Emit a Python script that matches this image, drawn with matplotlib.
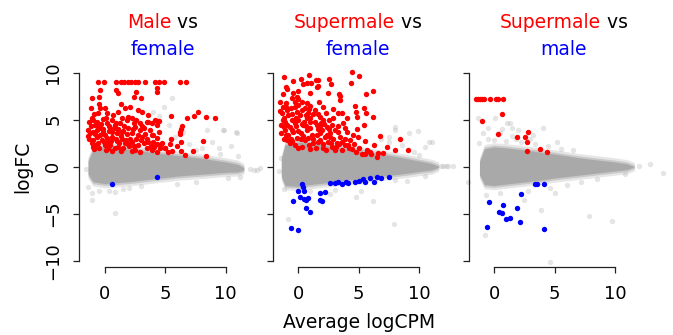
import matplotlib
matplotlib.use("Agg")
import matplotlib.pyplot as plt
import numpy as np

plt.rcParams['font.family'] = ['DejaVu Sans']

# ---------------- data ----------------
titles = [
    [[("Male", "#FF0000"), (" vs", "#000000")], [("female", "#0000FF")]],
    [[("Supermale", "#FF0000"), (" vs", "#000000")], [("female", "#0000FF")]],
    [[("Supermale", "#FF0000"), (" vs", "#000000")], [("male", "#0000FF")]],
]
xlabel = "Average logCPM"
ylabel = "logFC"
xticks = [0, 5, 10]
yticks = [-10, -5, 0, 5, 10]

# dense grey cloud envelope (core) for each panel
band1_x = [-1.4, -1.0, 0, 1, 2, 3, 4, 5, 6, 7, 8, 9, 10, 11, 11.5]
band1_hi = [0.6, 1.8, 2.1, 2.0, 1.85, 1.7, 1.5, 1.35, 1.2, 1.05, 0.9, 0.7, 0.5, 0.25, -0.1]
band1_lo = [-0.8, -1.6, -1.8, -1.7, -1.6, -1.45, -1.3, -1.15, -1.0, -0.9, -0.8, -0.7, -0.6, -0.55, -0.35]

band2_x = [-1.4, -1.1, 0, 1, 2, 3, 4, 5, 6, 7, 8, 9, 10, 11, 11.6]
band2_hi = [0.8, 2.3, 2.6, 2.5, 2.3, 2.1, 1.9, 1.7, 1.5, 1.3, 1.1, 0.85, 0.6, 0.35, 0.05]
band2_lo = [-1.0, -2.0, -2.1, -1.9, -1.75, -1.6, -1.45, -1.3, -1.15, -1.0, -0.85, -0.7, -0.5, -0.35, -0.05]

band3_x = [-1.2, -0.8, 0, 1, 2, 3, 4, 5, 6, 7, 8, 9, 10, 11, 11.6]
band3_hi = [0.5, 1.9, 2.1, 2.0, 1.85, 1.7, 1.5, 1.35, 1.15, 0.95, 0.8, 0.65, 0.5, 0.3, 0.0]
band3_lo = [-0.8, -1.9, -2.0, -1.85, -1.7, -1.55, -1.4, -1.2, -1.05, -0.9, -0.75, -0.6, -0.45, -0.3, 0.0]

# sparse grey points
grey1 = [(-1.6, -0.2), (-1.1, -2.8), (-1.05, -3.5), (0.83, -4.96), (0.83, -2.7), (0.3, -2.6),
         (10.96, 3.6), (9.8, 3.9), (12.6, -0.4), (11.2, -1.1), (5.52, 7.34), (5.3, 4.44),
         (6.49, 3.73), (8.42, 3.9), (9.89, 3.9), (10.85, 3.73), (10.44, 2.24), (11.05, 1.18),
         (9.45, 1.95), (8.84, 2.6), (-1.4, -2.2), (1.5, -2.4), (3.0, -2.0), (6.0, -1.8),
         (7.5, 1.8), (4.5, 5.4), (4.9, 6.4), (2.0, -2.3), (-0.5, -2.6), (12.0, -0.2),
         (7.0, 2.4), (8.0, 2.0), (9.5, 1.3), (5.8, 3.2), (4.0, 5.8), (10.2, -1.2), (7.5, -1.6)]
grey2 = [(-3.7, -0.3), (-3.2, -0.12), (-1.2, -2.35), (-0.83, -5.6), (7.9, -6.1), (6.2, -3.6),
         (12.2, 0.1), (11.8, 0.1), (10.8, 2.6), (9.9, 3.8), (8.0, 3.9), (4.8, -3.2),
         (7.99, 4.26), (9.17, 3.62), (7.52, 3.12), (10.47, 2.06), (11.02, 2.66), (-1.6, -0.5),
         (5.2, -2.6), (2.6, -2.9), (9.0, -1.5), (10.5, -1.0), (3.0, -2.5), (-1.4, 0.9), (6.8, 2.9),
         (8.6, 2.3), (9.6, 1.6), (7.5, 2.6), (10.0, 1.2), (1.0, -2.6), (8.0, -1.4)]
grey3 = [(-4.19, 0.1), (-3.8, 0.1), (-3.4, 0.1), (-2.12, -1.6), (12.9, 0.3), (14.0, -0.7),
         (12.0, 0.05), (10.8, -0.8), (7.85, -5.2), (9.73, -5.73), (4.63, -10.1), (-0.74, -7.27),
         (1.32, 4.68), (4.08, 4.08), (0.7, 4.0), (2.0, 3.9), (3.0, 3.0), (-0.5, 3.0), (1.5, 3.3),
         (5.0, -2.8), (2.5, -3.5), (-0.7, -3.0), (3.9, -4.6), (6.5, 1.8), (8.5, -1.3), (6.0, -1.9),
         (-1.2, 2.5), (-1.3, 5.14), (0.08, 5.14), (-0.47, 4.08), (1.05, 4.61), (1.46, 4.08), (0.5, 3.55),
         (0.0, 2.8), (1.0, 2.7), (2.2, 2.6), (3.4, 2.4), (4.5, 2.2), (5.5, 1.9), (-0.9, 3.6),
         (1.8, 3.0), (3.2, 3.4), (5.2, 2.6), (0.5, -2.8), (2.8, -2.6), (4.6, -2.3), (7.2, -1.6)]

# significant genes (up = red, down = blue)
red1 = [(-0.56, 9.05), (-0.06, 9.05), (0.88, 9.05), (1.32, 9.05), (1.6, 9.05), (1.88, 9.05),
        (2.15, 9.05), (2.48, 9.05), (2.7, 9.05), (3.31, 9.05), (4.14, 9.05), (4.47, 9.05),
        (4.91, 9.05), (6.21, 9.05), (6.71, 9.05),
        (-0.42, 8.16), (-1.11, 7.27), (-0.5, 7.45), (0.88, 8.16), (1.1, 7.8), (2.54, 7.98),
        (2.43, 7.45), (2.98, 7.27), (4.28, 8.34), (4.28, 7.98), (-1.16, 6.28), (-0.5, 6.64),
        (-0.42, 6.21), (-0.55, 5.68), (0.0, 6.21), (0.14, 5.68), (1.32, 6.64), (1.65, 6.28),
        (2.07, 6.39), (2.76, 6.03), (1.1, 5.85), (0.69, 5.5), (3.59, 5.5), (-1.11, 5.15),
        (5.47, 5.43), (6.77, 5.22), (7.4, 5.4), (7.73, 5.78), (8.37, 5.32), (9.11, 5.22),
        (6.35, 4.37), (6.27, 3.98), (6.21, 3.73), (6.21, 3.44), (8.15, 2.74), (5.47, 2.91),
        (5.38, 2.42), (6.27, 2.66), (5.99, 2.24), (5.58, 1.67), (5.25, 1.53), (6.27, 1.67),
        (6.63, 1.25), (7.26, 1.67), (8.34, 1.14), (4.97, 1.95),
        (3.1, 5.8), (3.6, 4.8), (4.3, 4.9), (4.5, 4.9), (4.6, 2.4), (5.0, 2.0),
        (-0.83, 4.44), (-0.97, 3.73), (-1.25, 3.55), (-0.69, 3.2), (-0.28, 2.84), (-0.56, 2.49),
        (0.0, 2.31), (0.27, 2.66), (-0.14, 3.73), (0.41, 4.08), (0.83, 4.44), (1.24, 4.61),
        (1.79, 4.97), (1.38, 3.73), (1.93, 4.08), (2.21, 3.55), (2.48, 4.26), (2.9, 3.9),
        (3.04, 3.2), (3.45, 4.79), (3.86, 4.61), (4.14, 4.97), (4.28, 4.44), (3.86, 3.37),
        (4.28, 3.02), (4.69, 2.49), (3.59, 2.66), (2.76, 2.31), (2.21, 2.66), (1.65, 2.49),
        (1.1, 2.13), (0.55, 3.2), (0.96, 3.55), (-0.97, 2.84), (-0.42, 4.08), (0.14, 4.61),
        (-1.38, 3.9), (-0.83, 2.31), (0.27, 1.95), (1.52, 1.95), (2.48, 1.78), (3.45, 1.95),
        (4.09, 2.13), (4.56, 1.95),
        (-1.2, 4.3), (-0.7, 3.9), (-0.3, 4.5), (0.0, 3.4), (0.5, 2.7), (0.9, 3.0), (1.4, 3.0),
        (1.8, 3.5), (2.0, 2.2), (2.6, 2.9), (3.2, 2.5), (3.7, 3.9), (-1.0, 2.1), (-0.5, 2.0),
        (0.8, 2.0), (1.2, 2.5), (0.3, 3.8), (-0.2, 5.1), (1.6, 4.3), (2.9, 4.6), (3.3, 3.5),
        (0.6, 5.0), (-0.9, 5.6), (-1.3, 4.8), (2.2, 5.2), (4.0, 2.6), (4.5, 3.7),
        (-1.3, 3.0), (-1.1, 2.5), (-0.8, 3.5), (-0.6, 4.2), (-0.4, 3.4), (-0.1, 2.6), (0.2, 3.1),
        (0.4, 2.3), (0.6, 3.7), (0.8, 4.1), (1.0, 2.7), (1.1, 4.0), (1.3, 3.3), (1.5, 3.8),
        (1.7, 2.8), (1.9, 2.4), (2.1, 3.0), (2.3, 4.0), (2.4, 2.2), (2.7, 3.4), (3.0, 2.8),
        (3.2, 4.1), (3.5, 3.0), (3.8, 2.2), (4.0, 3.4), (4.3, 2.4), (-0.9, 1.9), (0.1, 1.8),
        (0.6, 1.7), (1.3, 1.7), (2.2, 1.7), (2.9, 1.6), (3.9, 1.8), (4.3, 1.6), (-1.4, 3.3),
        (-0.2, 4.0), (0.3, 4.3), (0.9, 4.7), (1.9, 5.3), (2.6, 5.0), (-0.7, 4.8), (-1.0, 5.0),
        (0.1, 5.2), (1.4, 5.2), (2.4, 4.7), (3.1, 4.3)]
blue1 = [(0.55, -1.87), (4.28, -1.13)]

red2 = [(-1.16, 9.5), (-0.41, 9.15), (0.2, 9.3), (0.91, 9.75), (1.05, 8.95), (1.43, 9.2),
        (1.6, 9.2), (2.56, 9.3), (2.7, 8.8), (1.63, 8.6), (0.41, 8.8), (-0.9, 8.3), (0.75, 8.87),
        (1.52, 8.51), (-1.02, 8.51), (3.45, 7.55), (3.45, 7.1), (4.36, 8.87), (4.47, 10.1),
        (5.02, 9.65), (6.2, 8.05), (5.57, 7.7), (2.48, 7.8), (3.39, 7.7), (0.97, 7.8),
        (-1.51, 6.92), (-1.24, 7.7), (-1.02, 6.81), (-0.27, 6.92), (0.28, 6.92), (0.69, 6.74),
        (2.07, 6.39), (2.89, 6.1), (3.31, 5.68), (4.69, 6.46), (4.74, 5.85), (5.46, 6.21),
        (5.57, 5.68), (4.83, 5.32), (6.2, 5.25), (5.43, 4.4), (4.82, 4.0), (6.75, 3.27),
        (8.41, 2.91), (4.9, 3.12), (5.51, 2.77), (6.25, 2.27), (7.3, 2.13), (7.99, 1.77),
        (9.1, 1.75), (7.02, 1.49), (5.65, 1.77), (5.23, 1.35), (6.47, 1.07),
        (0.0, 8.09), (-0.41, 7.8), (-0.14, 7.45), (-0.55, 7.27), (0.0, 7.17),
        (-1.38, 5.68), (-0.83, 5.5), (-0.14, 5.85), (0.55, 6.21), (1.38, 6.03), (1.79, 5.32),
        (2.56, 4.97), (3.72, 4.61), (3.86, 4.08), (-1.1, 4.79), (-0.69, 4.26), (-0.41, 3.73),
        (0.0, 4.97), (0.41, 4.43), (0.69, 3.9), (1.1, 3.37), (0.97, 4.79), (1.52, 4.43),
        (1.93, 3.9), (2.34, 4.26), (2.62, 3.55), (3.03, 3.9), (3.45, 3.19), (3.99, 3.73),
        (4.27, 2.84), (3.86, 2.31), (3.17, 2.48), (2.48, 2.66), (1.79, 2.84), (1.24, 2.48),
        (0.55, 2.84), (-0.14, 3.02), (-0.83, 3.37), (-1.1, 3.9), (0.28, 2.13), (2.07, 1.95),
        (3.58, 1.77), (-0.69, 2.48), (-0.55, 4.97), (0.14, 5.5), (0.83, 5.68), (1.52, 3.37),
        (2.76, 2.13),
        (-1.3, 6.3), (-0.9, 6.0), (-0.3, 6.4), (0.3, 6.0), (1.0, 6.5), (1.7, 6.9), (2.3, 5.7),
        (2.9, 5.2), (-1.2, 5.2), (-0.3, 4.6), (0.7, 5.2), (1.2, 5.6), (1.9, 4.7), (2.2, 3.2),
        (2.9, 3.0), (3.3, 4.3), (4.5, 3.4), (4.6, 2.4), (4.2, 2.0), (5.0, 2.0), (5.9, 1.6),
        (6.6, 1.5), (3.0, 1.8), (1.5, 2.0), (0.9, 2.3), (-0.3, 2.3), (-1.2, 2.9), (-0.9, 4.4),
        (0.2, 3.6), (0.5, 4.8), (1.6, 4.0), (2.5, 4.0), (4.0, 5.2), (3.6, 5.7), (-1.4, 4.4),
        (-0.5, 5.6),
        (-1.5, 5.9), (-1.3, 5.0), (-1.2, 4.2), (-1.0, 3.4), (-0.9, 2.8), (-0.6, 3.0), (-0.5, 3.9),
        (-0.2, 4.3), (0.0, 3.8), (0.2, 2.9), (0.4, 3.3), (0.6, 4.3), (0.8, 3.1), (1.0, 4.1),
        (1.2, 2.9), (1.4, 4.8), (1.6, 2.6), (1.8, 3.6), (2.0, 2.4), (2.1, 4.5), (2.4, 3.4),
        (2.7, 2.5), (2.8, 4.4), (3.1, 2.1), (3.3, 3.7), (3.6, 2.6), (3.9, 2.9), (4.1, 2.3),
        (4.4, 1.9), (-0.6, 6.2), (0.0, 6.6), (0.6, 5.5), (1.0, 5.2), (1.6, 5.6), (2.0, 5.0),
        (-1.0, 6.4), (0.9, 6.1), (-0.2, 5.2), (0.3, 4.5), (1.8, 4.3), (2.6, 3.2), (3.4, 2.4),
        (2.3, 1.8), (1.0, 1.9), (0.0, 2.0), (-0.5, 2.7), (-1.4, 3.6), (4.8, 1.6), (5.5, 1.4),
        (6.0, 1.3)]
blue2 = [(0.33, -1.87), (0.41, -2.19), (-0.05, -2.58), (0.47, -2.58), (-0.41, -3.61),
         (0.14, -3.18), (0.47, -3.43), (0.64, -3.54), (0.77, -3.29), (0.64, -4.35), (0.97, -4.85),
         (1.79, -2.83), (2.21, -2.65), (1.79, -3.54), (1.93, -3.61), (-0.6, -6.55), (-0.05, -6.73),
         (2.62, -1.77), (3.03, -1.77), (3.31, -1.66), (3.58, -1.84), (3.94, -1.59), (4.13, -1.77),
         (4.68, -1.59), (5.04, -1.52), (5.37, -1.34), (5.51, -1.66), (5.92, -1.23), (6.25, -1.66),
         (6.48, -1.06), (6.83, -1.23), (7.49, -1.06)]

red3 = [(-1.52, 7.2), (-1.35, 7.2), (-1.16, 7.2), (-0.96, 7.2), (-0.8, 7.2), (-0.33, 7.2),
        (0.14, 7.2), (0.36, 7.2), (0.77, 7.2), (0.69, 5.6), (-1.02, 4.86), (0.36, 3.44),
        (1.93, 3.12), (2.84, 3.72), (2.59, 3.12), (2.7, 2.59), (2.7, 1.7), (3.8, 1.88), (4.41, 1.6)]
blue3 = [(3.39, -1.88), (3.58, -1.85), (4.13, -1.88), (2.26, -2.87), (-0.39, -3.76), (0.74, -4.11),
         (0.44, -4.8), (0.64, -4.96), (1.93, -4.36), (0.99, -5.53), (1.32, -5.46), (2.17, -5.88),
         (-0.55, -6.38), (4.13, -6.6)]

# ---------------- layout ----------------
W, H = 673, 335
fig = plt.figure(figsize=(W / 100, H / 100), dpi=100)

Y0PX, SY = 166.7, 9.4      # pixel row of logFC 0, pixels per unit
TOP, BOT = 60, 270
XAXIS_PX = 266.7
panels = [
    dict(l=60, r=252, x0=105.0, sx=12.07, yax=79.0, tc=162.6),
    dict(l=250, r=448, x0=298.3, sx=12.1, yax=272.7, tc=357.8),
    dict(l=440, r=672, x0=494.0, sx=12.1, yax=469.3, tc=564.0),
]
bands = [(band1_x, band1_hi, band1_lo), (band2_x, band2_hi, band2_lo), (band3_x, band3_hi, band3_lo)]
greys = [grey1, grey2, grey3]
reds = [red1, red2, red3]
blues = [blue1, blue2, blue3]

TICK_FS = 13
LABEL_FS = 13.5
TITLE_FS = 13.5
DOT = 15

renderer = fig.canvas.get_renderer()

for i, p in enumerate(panels):
    ax = fig.add_axes([p['l'] / W, 1 - BOT / H, (p['r'] - p['l']) / W, (BOT - TOP) / H])
    ax.set_facecolor('none')
    ax.set_xlim((p['l'] - p['x0']) / p['sx'], (p['r'] - p['x0']) / p['sx'])
    ax.set_ylim((Y0PX - BOT) / SY, (Y0PX - TOP) / SY)

    bx, bh, bl = [np.asarray(v, float) for v in bands[i]]
    ax.fill_between(bx, bl - 0.45, bh + 0.45, color='#E6E6E6', lw=0, zorder=1)
    ax.fill_between(bx, bl - 0.2, bh + 0.2, color='#C8C8C8', lw=0, zorder=1.1)
    ax.fill_between(bx, bl, bh, color='#A9A9A9', lw=0, zorder=1.2)

    g = np.array(greys[i])
    ax.scatter(g[:, 0], g[:, 1], s=DOT, color='#A9A9A9', alpha=0.3, lw=0, zorder=1.5, clip_on=False)
    r = np.array(reds[i])
    ax.scatter(r[:, 0], r[:, 1], s=DOT, color='#FF0000', lw=0, zorder=3, clip_on=False)
    b = np.array(blues[i])
    ax.scatter(b[:, 0], b[:, 1], s=DOT, color='#0000FF', lw=0, zorder=3, clip_on=False)

    for s in ['top', 'right']:
        ax.spines[s].set_visible(False)
    ax.spines['left'].set_position(('data', (p['yax'] - p['x0']) / p['sx']))
    ax.spines['left'].set_bounds(-10, 10)
    ax.spines['bottom'].set_position(('data', (Y0PX - XAXIS_PX) / SY))
    ax.spines['bottom'].set_bounds(0, 10)
    for s in ['left', 'bottom']:
        ax.spines[s].set_linewidth(0.9)
        ax.spines[s].set_color('#222222')

    ax.set_xticks(xticks)
    ax.set_yticks(yticks)
    ax.tick_params(axis='both', length=4.5, width=0.9, color='#222222', labelsize=TICK_FS)
    ax.tick_params(axis='x', pad=9)
    ax.tick_params(axis='y', pad=7.5)
    if i == 0:
        ax.set_yticklabels([str(v).replace('-', '\u2212') for v in yticks], rotation=90, va='center')
    else:
        ax.set_yticklabels([])

    for line, base_px in zip(titles[i], [28.3, 55.0]):
        txts = [fig.text(0, 1 - base_px / H, s, color=c, fontsize=TITLE_FS, va='baseline', ha='left')
                for s, c in line]
        widths = [t.get_window_extent(renderer).width for t in txts]
        x = p['tc'] - sum(widths) / 2
        for t, w in zip(txts, widths):
            t.set_x(x / W)
            x += w

fig.text(359 / W, 1 - 328 / H, xlabel, fontsize=LABEL_FS, ha='center', va='baseline')
fig.text(23 / W, 1 - 166.7 / H, ylabel, fontsize=LABEL_FS, ha='center', va='center', rotation=90)

fig.savefig('out.png', dpi=100)
